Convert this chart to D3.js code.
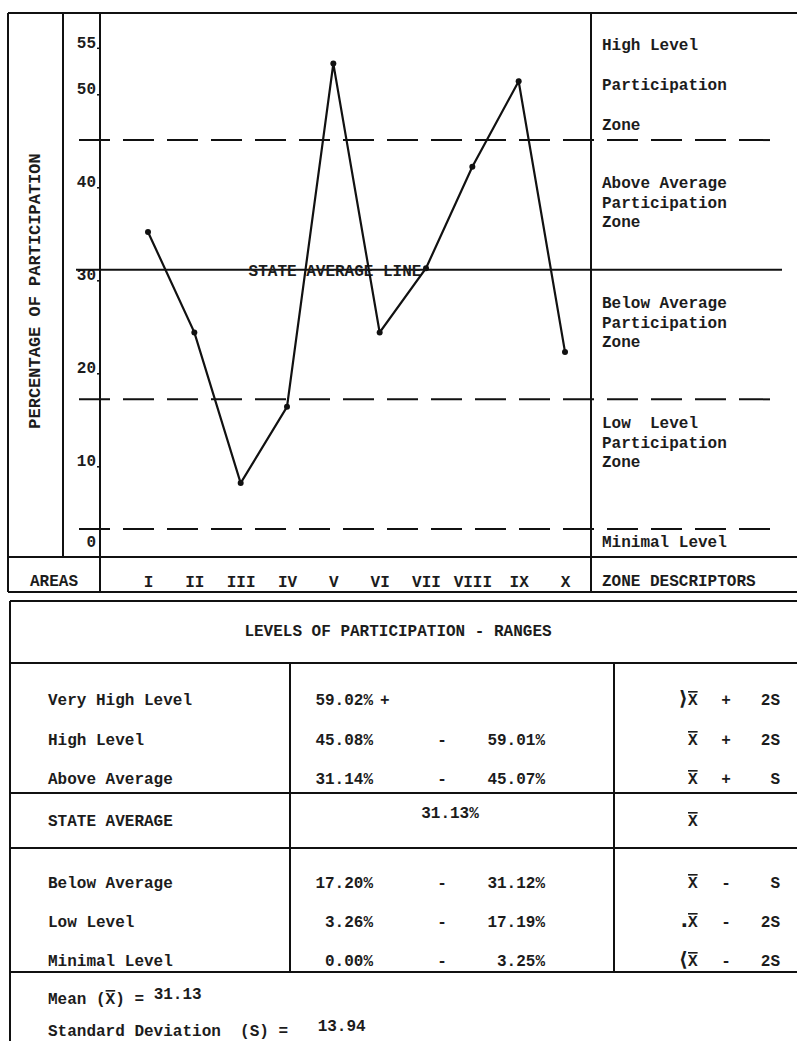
<!DOCTYPE html>
<html>
<head>
<meta charset="utf-8">
<style>
  body { margin: 0; background: #fff; }
  svg { display: block; }
  text { font-family: "Liberation Mono", "DejaVu Sans Mono", monospace; font-size: 16px; font-weight: bold; fill: #1c1c1c; }
  .frame line { stroke: #111; stroke-width: 2; }
  .axis text { font-size: 16px; }
  .axis line { stroke: #111; stroke-width: 1.5; }
  .xbar { text-decoration: overline; }
</style>
</head>
<body>
<script src="https://cdn.jsdelivr.net/npm/d3@7"></script>
<svg width="797" height="1041"></svg>
<script>
// chart values
var areas = ["I", "II", "III", "IV", "V", "VI", "VII", "VIII", "IX", "X"];
var participation = [35.2, 24.4, 8.2, 16.4, 53.3, 24.4, 31.3, 42.2, 51.4, 22.3];
var yTicks = [0, 10, 20, 30, 40, 50, 55];
var stateAverage = 31.13;
var zoneLines = [45.08, 17.20, 3.26];
var zoneDescriptors = [
  ["High Level", "Participation", "Zone"],
  ["Above Average", "Participation", "Zone"],
  ["Below Average", "Participation", "Zone"],
  ["Low  Level", "Participation", "Zone"],
  ["Minimal Level"]
];

// ranges table
var levelNames = ["Very High Level", "High Level", "Above Average", "Below Average", "Low Level", "Minimal Level"];
var rangeLow = ["59.02% +", "45.08%", "31.14%", "17.20%", "3.26%", "0.00%"];
var rangeHigh = ["", "59.01%", "45.07%", "31.12%", "17.19%", "3.25%"];
var formulaSign = ["\u27E9", "", "", "", ".", "\u27E8"];
var formulaOp = ["+", "+", "+", "-", "-", "-"];
var formulaTerm = ["2S", "2S", "S", "S", "2S", "2S"];
var meanValue = 31.13;
var sdValue = 13.94;

var svg = d3.select("svg");

var x = d3.scalePoint().domain(areas).range([148, 565]);
var y = d3.scaleLinear().domain([0, 50]).range([559.3, 94.3]);

// frame of the chart and the table
var frame = svg.append("g").attr("class", "frame");
var rules = [
  [8, 13, 797, 13], [8, 13, 8, 592], [63, 13, 63, 557], [100, 13, 100, 592],
  [591, 13, 591, 592], [8, 557, 797, 557], [8, 592, 797, 592],
  [10, 601, 797, 601], [10, 601, 10, 1041], [10, 663, 797, 663],
  [10, 793, 797, 793], [10, 848, 797, 848], [10, 972, 797, 972],
  [290, 663, 290, 972], [614, 663, 614, 972]
];
frame.selectAll("line").data(rules).enter().append("line")
  .attr("x1", d => d[0]).attr("y1", d => d[1])
  .attr("x2", d => d[2]).attr("y2", d => d[3]);

// y axis
var yAxis = svg.append("g").attr("class", "axis")
  .attr("transform", "translate(100,0)")
  .call(d3.axisLeft(y).tickValues(yTicks).tickSize(3).tickPadding(1).tickFormat(d3.format("d")));
yAxis.select(".domain").remove();
yAxis.selectAll(".tick").filter(d => d === 0).select("line").remove();
yAxis.selectAll("text").attr("dy", "-0.05em")
  .attr("y", d => d === 0 ? -12 : 0);

svg.append("text")
  .attr("transform", "translate(40,291) rotate(-90)")
  .attr("text-anchor", "middle")
  .style("font-size", "17px")
  .text("PERCENTAGE OF PARTICIPATION");

// x axis (areas row)
var xAxis = svg.append("g").attr("class", "axis")
  .attr("transform", "translate(0,557)")
  .call(d3.axisBottom(x).tickSize(0).tickPadding(19));
xAxis.select(".domain").remove();

svg.append("text").attr("x", 54).attr("y", 586).attr("text-anchor", "middle").text("AREAS");
svg.append("text").attr("x", 602).attr("y", 586).text("ZONE DESCRIPTORS");

// zone lines
svg.selectAll(".zone").data(zoneLines).enter().append("line")
  .attr("class", "zone")
  .attr("x1", 79).attr("x2", 780)
  .attr("y1", d => y(d)).attr("y2", d => y(d))
  .attr("stroke", "#111").attr("stroke-width", 2)
  .attr("stroke-dasharray", "31,13");

svg.append("line")
  .attr("x1", 76).attr("x2", 782)
  .attr("y1", y(stateAverage)).attr("y2", y(stateAverage))
  .attr("stroke", "#111").attr("stroke-width", 2);

svg.append("text")
  .attr("x", 335).attr("y", y(stateAverage) + 6)
  .attr("text-anchor", "middle")
  .text("STATE AVERAGE LINE");

// descriptors
var descTop = [50, 188, 308, 428, 547];
zoneDescriptors.forEach(function(lines, i) {
  var gap = i === 0 ? 40 : 19.5;
  lines.forEach(function(t, j) {
    svg.append("text").attr("x", 602).attr("y", descTop[i] + j * gap)
      .style("white-space", "pre").text(t);
  });
});

// participation line
var line = d3.line()
  .x((d, i) => x(areas[i]))
  .y(d => y(d));

svg.append("path")
  .datum(participation)
  .attr("d", line)
  .attr("fill", "none")
  .attr("stroke", "#111")
  .attr("stroke-width", 2.2);

svg.selectAll(".pt").data(participation).enter().append("circle")
  .attr("class", "pt")
  .attr("cx", (d, i) => x(areas[i]))
  .attr("cy", d => y(d))
  .attr("r", 3)
  .attr("fill", "#111");

// ranges table
svg.append("text").attr("x", 398).attr("y", 636).attr("text-anchor", "middle")
  .text("LEVELS OF PARTICIPATION - RANGES");

var rowY = [705, 745, 784, 888, 927, 966];
var rows = svg.selectAll(".row").data(levelNames).enter().append("g")
  .attr("class", "row")
  .attr("transform", (d, i) => "translate(0," + rowY[i] + ")");

rows.append("text").attr("x", 48).text(d => d);
rows.append("text").attr("x", 373).attr("text-anchor", "end")
  .text((d, i) => rangeLow[i].replace(" +", ""));
rows.filter((d, i) => rangeLow[i].indexOf("+") > 0)
  .append("text").attr("x", 380).text("+");
rows.filter((d, i) => rangeHigh[i] !== "")
  .append("text").attr("x", 442).attr("text-anchor", "middle").text("-");
rows.append("text").attr("x", 545).attr("text-anchor", "end").text((d, i) => rangeHigh[i]);
rows.append("text").attr("x", 688).attr("text-anchor", "end")
  .style("font-family", "DejaVu Sans").style("font-size", "20px")
  .text((d, i) => formulaSign[i]);
rows.append("text").attr("x", 688).attr("class", "xbar").text("X");
rows.append("text").attr("x", 726).attr("text-anchor", "middle").text((d, i) => formulaOp[i]);
rows.append("text").attr("x", 780).attr("text-anchor", "end").text((d, i) => formulaTerm[i]);

// state average row
svg.append("text").attr("x", 48).attr("y", 826).text("STATE AVERAGE");
svg.append("text").attr("x", 450).attr("y", 818).attr("text-anchor", "middle")
  .text(stateAverage.toFixed(2) + "%");
svg.append("text").attr("x", 688).attr("y", 826).attr("class", "xbar").text("X");

// summary
var mean = svg.append("text").attr("x", 48).attr("y", 1004).style("white-space", "pre");
mean.append("tspan").text("Mean (");
mean.append("tspan").attr("class", "xbar").text("X");
mean.append("tspan").text(") = ");
mean.append("tspan").attr("dy", -5).text(meanValue.toFixed(2));

svg.append("text").attr("x", 48).attr("y", 1036).style("white-space", "pre")
  .text("Standard Deviation  (S) = ")
  .append("tspan").attr("dx", 20).attr("dy", -5).text(sdValue.toFixed(2));
</script>
</body>
</html>
